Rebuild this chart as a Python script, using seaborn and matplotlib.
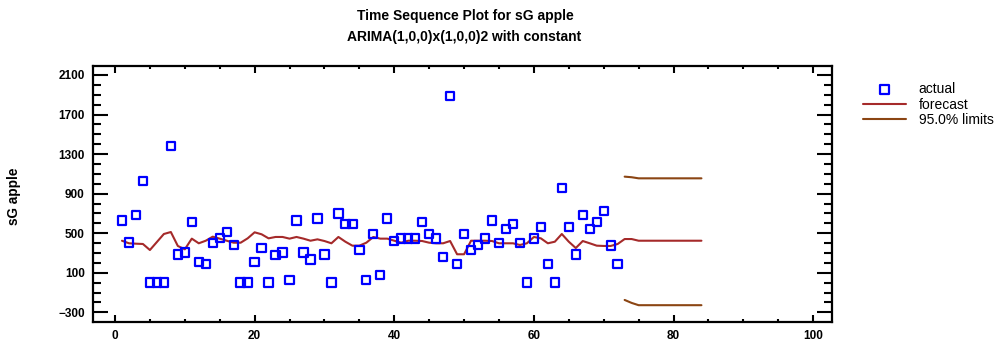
import numpy as np
import pandas as pd
import matplotlib
matplotlib.use("Agg")
import matplotlib.pyplot as plt
import seaborn as sns
from matplotlib.ticker import MultipleLocator

# ---------------- data ----------------
t_actual = list(range(1, 73))
actual = [630, 405, 685, 1025, 0, 0, 0, 1380, 285, 305,
          610, 210, 190, 400, 450, 515, 380, 0, 0, 210,
          350, 0, 280, 305, 25, 630, 305, 235, 650, 285,
          0, 700, 590, 590, 330, 25, 490, 75, 650, 420,
          445, 445, 445, 610, 490, 445, 260, 1890, 190, 490,
          330, 380, 445, 630, 400, 540, 590, 400, 0, 445,
          565, 190, 0, 955, 565, 285, 685, 540, 610, 725,
          375, 190]

t_forecast = list(range(1, 85))
forecast = [424, 398, 394, 391, 330, 411, 492, 512, 371, 337,
            445, 398, 424, 465, 445, 424, 404, 404, 448, 509,
            489, 448, 462, 462, 445, 462, 445, 424, 438, 421,
            398, 462, 414, 374, 374, 404, 462, 445, 445, 424,
            404, 424, 424, 421, 404, 398, 398, 421, 287, 287,
            424, 424, 424, 421, 398, 398, 398, 381, 398, 462,
            448, 398, 414, 492, 414, 350, 421, 398, 374, 371,
            371, 391, 441, 441, 424, 424, 424, 424, 424, 424,
            424, 424, 424, 424]

t_limits = list(range(73, 85))
upper = [1072, 1066, 1055, 1055, 1055, 1055, 1055, 1055, 1055, 1055, 1055, 1055]
lower = [-175, -205, -228, -228, -228, -228, -228, -228, -228, -228, -228, -228]

x_ticks = [0, 20, 40, 60, 80, 100]
y_ticks = [-300, 100, 500, 900, 1300, 1700, 2100]

df_act = pd.DataFrame({"t": t_actual, "v": actual})
df_fc = pd.DataFrame({"t": t_forecast, "v": forecast})
df_up = pd.DataFrame({"t": t_limits, "v": upper})
df_lo = pd.DataFrame({"t": t_limits, "v": lower})

# ---------------- style ----------------
sns.set_style("ticks")
plt.rcParams["font.family"] = ["Liberation Sans", "DejaVu Sans"]
plt.rcParams["text.color"] = "black"
plt.rcParams["axes.labelcolor"] = "black"

W, H = 1003, 358
fig = plt.figure(figsize=(W / 100, H / 100), dpi=100)
ax = fig.add_axes([93 / W, 1 - 322 / H, (832 - 93) / W, (322 - 66) / H])

BLUE = "#0000ff"
FC = "#a52a2a"
LIM = "#8b4513"

sns.lineplot(data=df_fc, x="t", y="v", color=FC, lw=1.5, label="forecast", ax=ax)
sns.lineplot(data=df_up, x="t", y="v", color=LIM, lw=1.5, label="95.0% limits", ax=ax)
sns.lineplot(data=df_lo, x="t", y="v", color=LIM, lw=1.5, label="_nolegend_", ax=ax)
sns.scatterplot(data=df_act, x="t", y="v", marker="s", s=36, fc="none",
                ec=BLUE, linewidth=1.6, label="actual", ax=ax, zorder=3)

ax.set_xlim(-3.15, 102.7)
ax.set_ylim(-398, 2191)
ax.set_xticks(x_ticks)
ax.set_yticks(y_ticks)
ax.xaxis.set_minor_locator(MultipleLocator(5))
ax.yaxis.set_minor_locator(MultipleLocator(100))
ax.tick_params(which="both", direction="in", top=True, right=True,
               width=1.5, colors="black", labelcolor="black", labelsize=8.5)
ax.tick_params(axis="x", which="major", length=5, pad=6)
ax.tick_params(axis="x", which="minor", length=2.4)
ax.tick_params(axis="y", which="major", length=10.5, pad=6)
ax.tick_params(axis="y", which="minor", length=5.7)
for lab in ax.get_xticklabels() + ax.get_yticklabels():
    lab.set_fontweight("bold")
for sp in ax.spines.values():
    sp.set_linewidth(1.6)
    sp.set_color("black")

ax.set_xlabel("")
ax.set_ylabel("")
fig.text(14 / W, 1 - 196 / H, "sG apple", rotation=90, ha="center", va="center",
         fontsize=9.8, fontweight="bold", color="black")

fig.text(465 / W, 1 - 16 / H, "Time Sequence Plot for sG apple",
         ha="center", va="center", fontsize=10, fontweight="bold", color="black")
fig.text(464 / W, 1 - 37 / H, "ARIMA(1,0,0)x(1,0,0)2 with constant",
         ha="center", va="center", fontsize=10, fontweight="bold", color="black")

handles, labels = ax.get_legend_handles_labels()
order = [labels.index("actual"), labels.index("forecast"), labels.index("95.0% limits")]
leg = ax.legend([handles[i] for i in order], [labels[i] for i in order],
                loc="upper left", bbox_to_anchor=(863 / W, 1 - 82 / H),
                bbox_transform=fig.transFigure, frameon=False, fontsize=10,
                handlelength=3.1, handletextpad=0.9, labelspacing=0.12,
                borderpad=0, borderaxespad=0, labelcolor="black")

fig.savefig("out.png", dpi=100)
